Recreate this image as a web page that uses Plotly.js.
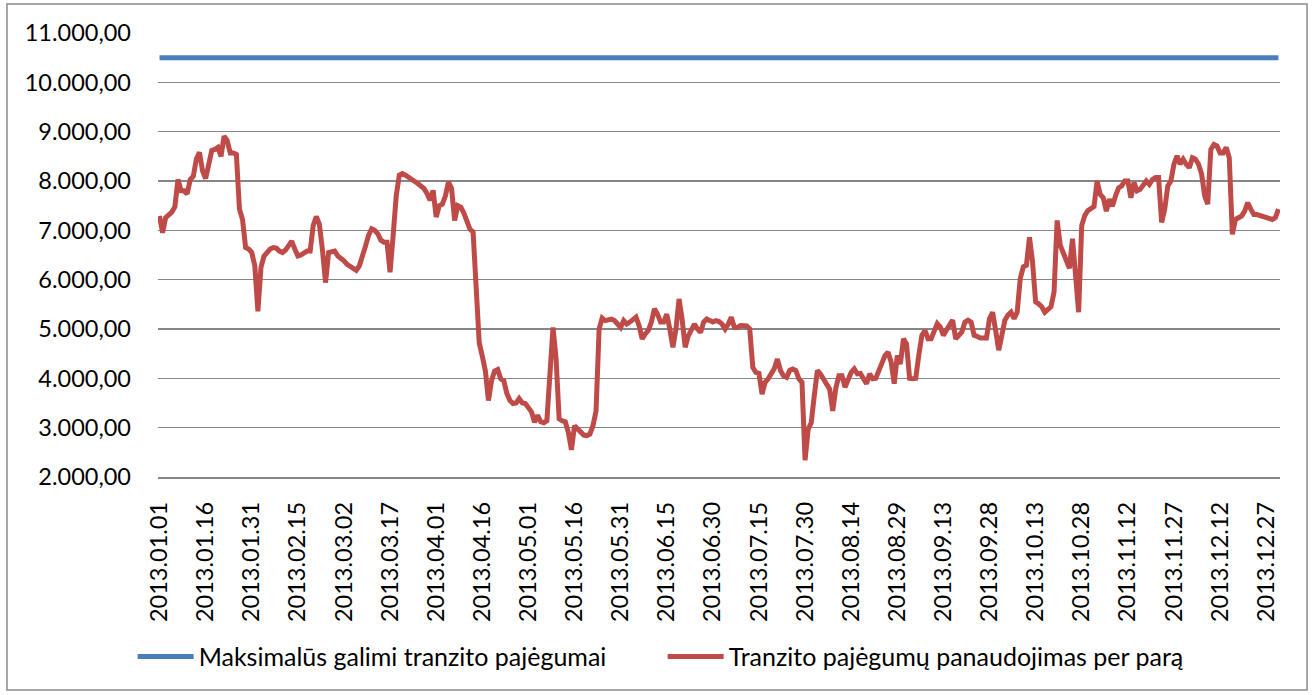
<!DOCTYPE html>
<html>
<head>
<meta charset="utf-8">
<script src="https://cdn.plot.ly/plotly-3.0.1.min.js"></script>
<style>
  html, body { margin: 0; padding: 0; background: #ffffff; }
  #chart { width: 1315px; height: 695px; }
</style>
</head>
<body>
<div id="chart"></div>
<script>
// ---- Data ----
const year = 2013;
const monthLengths = [31, 28, 31, 30, 31, 30, 31, 31, 30, 31, 30, 31];
const pad2 = n => (n < 10 ? '0' : '') + n;
const dates = [];
monthLengths.forEach((len, m) => {
  for (let d = 1; d <= len; d++) dates.push(year + '.' + pad2(m + 1) + '.' + pad2(d));
});

const tickLabels = [
  '2013.01.01', '2013.01.16', '2013.01.31', '2013.02.15', '2013.03.02',
  '2013.03.17', '2013.04.01', '2013.04.16', '2013.05.01', '2013.05.16',
  '2013.05.31', '2013.06.15', '2013.06.30', '2013.07.15', '2013.07.30',
  '2013.08.14', '2013.08.29', '2013.09.13', '2013.09.28', '2013.10.13',
  '2013.10.28', '2013.11.12', '2013.11.27', '2013.12.12', '2013.12.27'
];

const capacityDates = ['2013.01.01', '2013.12.31'];
const capacity = [10500, 10500];

const usage = [
  7290, 6950, 7260, 7300, 7370, 7480, 8030, 7800, 7800, 7740,
  8030, 8100, 8450, 8580, 8200, 8050, 8300, 8620, 8640, 8680,
  8500, 8910, 8820, 8570, 8570, 8540, 7430, 7220, 6650, 6620,
  6550, 6280, 5360, 6250, 6480, 6570, 6620, 6650, 6640, 6580,
  6550, 6600, 6700, 6780, 6620, 6480, 6500, 6550, 6580, 6580,
  7100, 7280, 7120, 6600, 5940, 6550, 6560, 6580, 6480, 6440,
  6380, 6310, 6270, 6220, 6190, 6280, 6450, 6680, 6900, 7030,
  7000, 6930, 6800, 6760, 6760, 6150, 6900, 7700, 8120, 8150,
  8120, 8080, 8050, 7990, 7950, 7900, 7850, 7750, 7610, 7810,
  7270, 7500, 7530, 7700, 7980, 7850, 7200, 7500, 7470, 7350,
  7200, 7020, 6970, 5850, 4720, 4450, 4150, 3550, 3950, 4150,
  4180, 3990, 3950, 3690, 3550, 3490, 3500, 3590, 3500, 3490,
  3380, 3320, 3110, 3250, 3120, 3100, 3140, 4200, 5030, 4400,
  3180, 3140, 3120, 2900, 2550, 3040, 2970, 2900, 2850, 2840,
  2870, 3040, 3340, 5000, 5220, 5170, 5180, 5200, 5170, 5100,
  5030, 5170, 5100, 5140, 5200, 5240, 5070, 4800, 4900, 4970,
  5140, 5410, 5300, 5140, 5140, 5300, 5000, 4630, 5000, 5610,
  5200, 4630, 4860, 4970, 5100, 5000, 4930, 5140, 5200, 5170,
  5140, 5170, 5150, 5100, 5000, 5100, 5240, 5030, 5030, 5070,
  5070, 5060, 5000, 4220, 4120, 4100, 3680, 3920, 3990, 4090,
  4200, 4390, 4160, 4050, 4020, 4160, 4190, 4160, 3990, 3920,
  2340, 2970, 3100, 3650, 4160, 4090, 3990, 3920, 3780, 3340,
  3800, 4050, 4050, 3820, 3990, 4120, 4190, 4090, 4100, 3990,
  3890, 4090, 3990, 4000, 4160, 4330, 4460, 4530, 4330, 3890,
  4460, 4290, 4800, 4700, 4000, 3990, 4000, 4470, 4870, 4970,
  4800, 4800, 4970, 5110, 5040, 4870, 4980, 5070, 5180, 4800,
  4870, 4940, 5140, 5180, 5140, 4870, 4850, 4820, 4820, 4820,
  5210, 5340, 4970, 4570, 4870, 5180, 5280, 5340, 5210, 5340,
  6020, 6260, 6290, 6860, 6360, 5550, 5510, 5450, 5340, 5410,
  5450, 5750, 7200, 6700, 6550, 6400, 6230, 6830, 6000, 5340,
  7100, 7300, 7400, 7450, 7480, 8000, 7730, 7660, 7390, 7630,
  7490, 7700, 7860, 7900, 8000, 8000, 7660, 7970, 7800, 7830,
  7930, 8000, 7930, 8030, 8070, 8070, 7160, 7430, 7900, 8000,
  8340, 8510, 8340, 8440, 8340, 8270, 8470, 8440, 8340, 8140,
  7700, 7530, 8640, 8740, 8710, 8570, 8570, 8680, 8470, 6920,
  7220, 7250, 7290, 7390, 7560, 7430, 7320, 7320, 7300, 7290,
  7280, 7260, 7220, 7260, 7430
];

const seriesNames = [
  'Maksimalūs galimi tranzito pajėgumai',
  'Tranzito pajėgumų panaudojimas per parą'
];

// ---- Chart ----
const FONT = 'Lato, "Open Sans", "DejaVu Sans", sans-serif';
const FSIZE = 23.5;

const traces = [
  {
    type: 'scatter', mode: 'lines', name: seriesNames[0],
    x: capacityDates, y: capacity,
    line: { color: '#4A7EBB', width: 5 },
    hoverinfo: 'skip'
  },
  {
    type: 'scatter', mode: 'lines', name: seriesNames[1],
    x: dates, y: usage,
    line: { color: '#BE4B48', width: 5 },
    hoverinfo: 'skip'
  }
];

const layout = {
  width: 1315, height: 695,
  paper_bgcolor: '#ffffff', plot_bgcolor: '#ffffff',
  margin: { l: 158, r: 35, t: 33, b: 218 },
  separators: ',.',
  font: { family: FONT, size: FSIZE, color: '#000000' },
  showlegend: true,
  legend: {
    orientation: 'h',
    x: -0.0226, xanchor: 'left',
    y: -0.405, yanchor: 'middle',
    font: { family: FONT, size: 25, color: '#000000' },
    itemwidth: 56,
    entrywidth: 459, entrywidthmode: 'pixels',
    bgcolor: 'rgba(0,0,0,0)', traceorder: 'normal'
  },
  xaxis: {
    type: 'category',
    categoryorder: 'array', categoryarray: dates,
    range: [-0.5, dates.length - 0.5],
    tickmode: 'array', tickvals: tickLabels, ticktext: tickLabels,
    tickangle: -90,
    tickfont: { family: FONT, size: FSIZE, color: '#000000' },
    ticks: '', ticklabelstandoff: 14,
    showgrid: false, zeroline: false,
    showline: true, linecolor: '#868686', linewidth: 1.5
  },
  yaxis: {
    range: [2000, 11000],
    tickmode: 'linear', tick0: 2000, dtick: 1000,
    tickformat: ',.2f',
    tickfont: { family: FONT, size: FSIZE, color: '#000000' },
    ticks: '', ticklabelstandoff: 26,
    showgrid: true, gridcolor: '#868686', gridwidth: 1.5,
    zeroline: false, showline: false
  },
  shapes: [
    {
      type: 'rect', xref: 'paper', yref: 'paper',
      x0: -0.1346, x1: 1.0241, y0: -0.4797, y1: 1.0653,
      line: { color: '#8a8a8a', width: 1.5 }, fillcolor: 'rgba(0,0,0,0)',
      layer: 'below'
    }
  ]
};

Plotly.newPlot('chart', traces, layout, { displayModeBar: false, staticPlot: true });
</script>
</body>
</html>
